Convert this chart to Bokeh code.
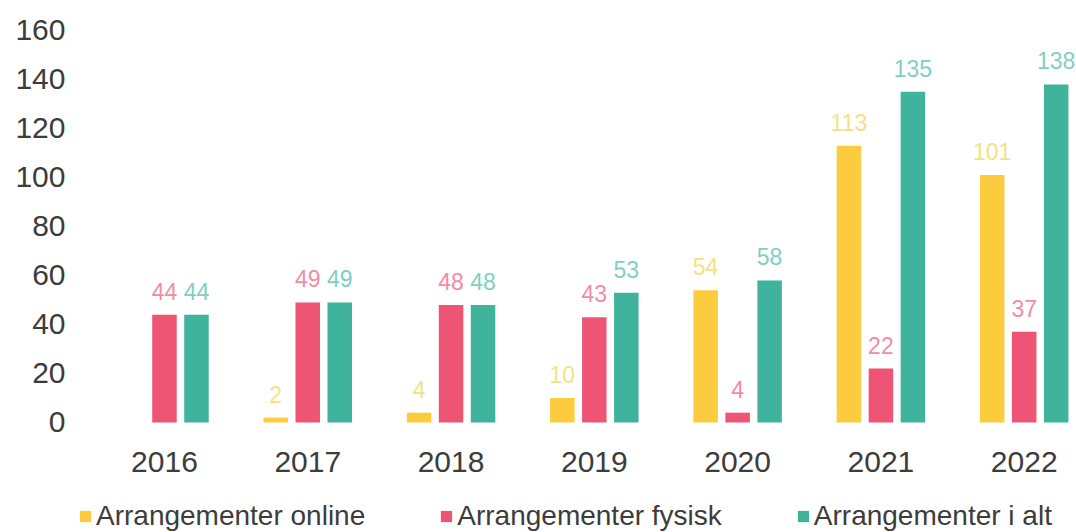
import numpy as np
from bokeh.plotting import figure
from bokeh.models import (ColumnDataSource, Range1d, FixedTicker, LabelSet,
                          Legend, LegendItem)
from bokeh.core.properties import value
from bokeh.embed import file_html
from bokeh.resources import INLINE

years = ["2016", "2017", "2018", "2019", "2020", "2021", "2022"]
online = [0, 2, 4, 10, 54, 113, 101]
fysisk = [44, 49, 48, 43, 4, 22, 37]
i_alt = [44, 49, 48, 53, 58, 135, 138]
online_labels = ["", "2", "4", "10", "54", "113", "101"]
fysisk_labels = [str(v) for v in fysisk]
alt_labels = [str(v) for v in i_alt]
y_ticks = [0, 20, 40, 60, 80, 100, 120, 140, 160]

series_names = ["Arrangementer online", "Arrangementer fysisk", "Arrangementer i alt"]
bar_colors = ["#fdcb3e", "#ee5474", "#3fb39b"]
label_colors = ["#f2e284", "#f48ba5", "#7fd0bf"]

FONT = "Liberation Sans"
pos = np.arange(len(years))
offset = 0.2233
bar_w = 0.171

p = figure(width=1076, height=532, output_backend="svg", toolbar_location=None,
           x_range=Range1d(-0.600, 6.365), y_range=Range1d(-44.9, 168.16),
           x_axis_location=None,
           min_border_left=78, min_border_right=0, min_border_top=10,
           min_border_bottom=0)
p.outline_line_color = None
p.grid.visible = False

renderers = []
for k, (vals, labs, off) in enumerate(zip([online, fysisk, i_alt],
                                          [online_labels, fysisk_labels, alt_labels],
                                          [-offset, 0, offset])):
    src = ColumnDataSource(dict(x=pos + off, top=vals, lab=labs))
    r = p.vbar(x="x", top="top", width=bar_w, bottom=0, source=src,
               fill_color=bar_colors[k], line_color=None)
    renderers.append(r)
    ls = LabelSet(x="x", y="top", text="lab", source=src, y_offset=15,
                  text_align="center", text_baseline="alphabetic",
                  text_color=label_colors[k], text_font=value(FONT),
                  text_font_size="23px")
    p.add_layout(ls)

# category (year) labels under the bars
ysrc = ColumnDataSource(dict(x=pos, y=[0] * len(years), lab=years))
p.add_layout(LabelSet(x="x", y="y", text="lab", source=ysrc, y_offset=-50,
                      text_align="center", text_baseline="alphabetic",
                      text_color="#3c3c3c", text_font=value(FONT),
                      text_font_size="30px"))

p.yaxis.ticker = FixedTicker(ticks=y_ticks)
ax = p.yaxis
ax.axis_line_color = None
ax.major_tick_line_color = None
ax.minor_tick_line_color = None
ax.major_tick_out = 0
ax.minor_tick_out = 0
ax.major_label_text_font = FONT
ax.major_label_text_font_size = "30px"
ax.major_label_text_color = "#3c3c3c"
ax.major_label_standoff = 13

legend = Legend(items=[LegendItem(label=n, renderers=[r]) for n, r in zip(series_names, renderers)],
                orientation="horizontal", location=(0, 0),
                glyph_width=14, glyph_height=14, label_standoff=4, spacing=74,
                padding=0, margin=0, border_line_color=None,
                background_fill_alpha=0, label_text_font=FONT,
                label_text_font_size="28px", label_text_color="#3c3c3c",
                label_height=28)
p.add_layout(legend, "center")

open("out.html", "w").write(file_html(p, INLINE))
